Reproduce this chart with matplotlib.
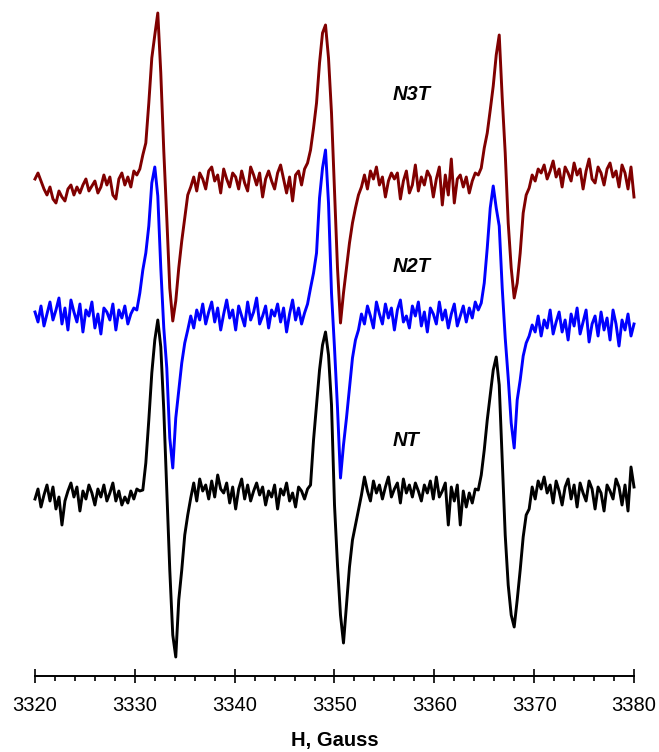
"""
EPR spectra of NT, N2T and N3T (stacked, arbitrary units)
"""

import matplotlib
matplotlib.use("Agg")
import matplotlib.pyplot as plt
from matplotlib.ticker import MultipleLocator
import numpy as np

# magnetic field grid, 0.3 G per point
field = np.linspace(3320, 3380, 201)

# signal amplitudes (a.u.)
n3t = [
    4, 10, 2, -6, -12, -4, -16, -20, -8, -14,
    -18, -6, -2, -12, -4, -10, -2, 4, -8, -3,
    2, -10, -4, 8, -2, 6, -12, -16, 4, 10,
    -2, 6, -4, 12, 8, 14, 28, 40, 80, 125,
    148, 170, 110, 32, -35, -105, -138, -118, -85, -58,
    -35, -12, -4, 6, -8, 10, 4, -6, 12, 16,
    2, 8, -10, 14, 4, -4, 10, 6, -6, 12,
    0, -8, 16, 8, -2, 10, -14, 4, 12, 2,
    -6, 10, 18, 4, -10, 6, -18, 8, 12, -2,
    14, 20, 33, 55, 80, 120, 150, 158, 125, 70,
    -8, -85, -140, -110, -85, -60, -40, -25, -12, -4,
    8, -6, 12, 4, 16, -2, 6, -14, 2, 10,
    4, 10, -16, 2, 12, -10, -2, 18, -8, 6,
    -2, 12, 6, -14, 4, 16, -22, 8, -12, 24,
    -20, 4, 8, -4, 6, -10, 2, 10, 8, 15,
    35, 50, 73, 97, 128, 148, 85, 30, -40, -85,
    -115, -100, -70, -30, -12, -5, 8, 2, 14, 10,
    18, 4, 12, 22, 6, 14, -4, 16, 10, 2,
    20, 8, 14, -6, 12, 24, 4, 0, 16, 10,
    -2, 14, 20, 6, 12, -4, 18, 10, -6, 16,
    -14,
]

n2t = [
    6, -4, 12, -8, 4, 16, -2, 8, 20, -6,
    10, -12, 18, 6, -4, 14, -14, 8, 2, 16,
    -10, 4, -16, 10, 6, -2, 14, -12, 8, 0,
    12, -6, 4, 10, 8, 25, 48, 65, 92, 135,
    151, 122, 50, -10, -50, -120, -150, -100, -72, -45,
    -25, -12, 2, -10, 8, -2, 14, -6, 6, 16,
    -4, 10, -12, 4, 18, 0, 8, -12, 12, 2,
    -8, 16, -2, 6, 20, -6, 2, 12, -10, 8,
    2, 14, -4, 10, -14, 4, 18, -2, 10, -6,
    5, 14, 30, 45, 65, 120, 150, 168, 115, 25,
    -30, -90, -160, -127, -100, -70, -40, -22, -12, 4,
    -6, 12, 2, -10, 16, 4, -6, 14, 0, 10,
    -12, 8, 18, -4, 2, -10, 12, 2, 16, -8,
    6, -14, 10, 4, -6, 16, -2, 8, -10, 4,
    14, -8, 2, 12, -4, 10, 0, 16, 8, 15,
    35, 70, 110, 132, 110, 92, 30, -20, -60, -105,
    -130, -82, -62, -38, -25, -18, -7, -14, 2, -18,
    -2, -10, 8, -16, -4, 6, -14, -2, -22, 4,
    -8, 10, -16, -4, 8, -24, -6, 2, -18, 6,
    -12, 0, -22, 8, -6, -28, -2, -12, 4, -18,
    -6,
]

nt = [
    -4, 6, -12, 0, 10, -6, 8, -14, -2, -30,
    -6, 4, 12, -2, 8, -16, 4, -4, 10, 2,
    -10, 6, -2, 10, -6, 2, 12, -6, 4, -10,
    -2, -8, 4, -4, 6, 4, 5, 32, 75, 122,
    155, 175, 148, 85, 5, -75, -140, -162, -105, -75,
    -40, -20, -3, 12, -6, 16, 4, 10, -4, 14,
    -2, 20, 6, 2, 12, -8, 8, -14, 6, 16,
    -4, 10, -6, 4, 12, 0, 8, -10, 4, -2,
    10, -14, 6, 0, 12, -6, 2, -12, 8, 4,
    -4, 6, 10, 55, 90, 125, 150, 163, 140, 90,
    -10, -70, -120, -148, -110, -72, -45, -30, -15, 0,
    18, 4, -6, 14, 2, 10, -4, 8, 18, -2,
    6, 12, -8, 16, 2, 10, -2, 12, 4, -6,
    10, 2, 14, -4, 18, -2, 4, 12, -30, 8,
    -6, 10, -30, 4, -12, 2, -8, 6, 5, 20,
    45, 75, 100, 125, 138, 110, 35, -40, -90, -120,
    -132, -105, -75, -42, -20, -14, 8, -4, 14, 6,
    18, 2, 10, -8, 14, 4, -10, 8, 16, -4,
    10, -12, 12, 2, -6, 14, 6, -14, 8, 2,
    -16, 10, 4, -4, 16, 8, -10, 10, -16, 28,
    8,
]

labels = ["N3T", "N2T", "NT"]

plt.rcParams["font.family"] = ["Liberation Sans", "DejaVu Sans"]

W, H = 659, 752
fig = plt.figure(figsize=(W / 100, H / 100), dpi=100)
ax = fig.add_axes([35 / W, 76 / H, 599 / W, (H - 76) / H])

# vertical stacking of the traces
traces = [
    (n3t, "#800000", 569, 657),
    (n2t, "#0000ff", 434, 485),
    (nt, "black", 257, 311),
]
for (y, color, offset, label_y), name in zip(traces, labels):
    ax.plot(field, np.asarray(y) + offset, color=color, linewidth=2.1,
            solid_joinstyle="round", clip_on=False)
    ax.text(3355.8, label_y, name, fontsize=14.5, fontweight="bold",
            fontstyle="italic", ha="left", va="center")

ax.set_xlim(3320, 3380)
ax.set_ylim(76, H)

for side in ("left", "right", "top"):
    ax.spines[side].set_visible(False)
ax.spines["bottom"].set_linewidth(1.4)
ax.set_yticks([])

ax.xaxis.set_major_locator(MultipleLocator(10))
ax.xaxis.set_minor_locator(MultipleLocator(2))
ax.tick_params(axis="x", which="major", direction="inout", length=9.5,
               width=1.2, pad=10, labelsize=14.5)
ax.tick_params(axis="x", which="minor", direction="out", length=3.8, width=1.2)

ax.set_xlabel("H, Gauss", fontsize=14.5, fontweight="bold", labelpad=11)

fig.savefig("out.png", dpi=100)
